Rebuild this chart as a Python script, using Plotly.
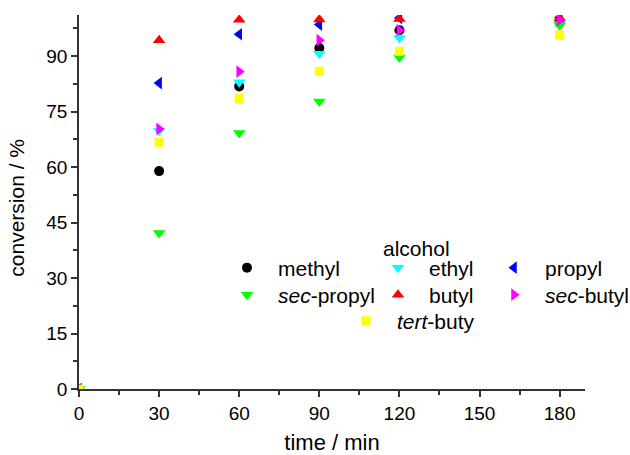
import plotly.graph_objects as go

# Conversion of each alcohol over reaction time
time_min = [0, 30, 60, 90, 120, 180]
methyl = [0, 58.9, 81.8, 92.2, 97.0, 99.0]
ethyl = [0, 69.8, 82.9, 90.6, 94.9, 98.6]
propyl = [0, 82.7, 95.9, 98.5, 100.3, 100.4]
sec_propyl = [0, 42.2, 69.2, 77.7, 89.6, 98.3]
butyl = [0, 94.3, 99.8, 99.9, 100.0, 100.3]
sec_butyl = [0, 70.3, 85.8, 94.3, 97.0, 99.7]
tert_buty = [0, 66.7, 78.5, 85.9, 91.3, 95.7]

x_ticks = [0, 30, 60, 90, 120, 150, 180]
y_ticks = [0, 15, 30, 45, 60, 75, 90]

FONT = "Liberation Sans, Arial, sans-serif"

# name, values, symbol, colour, marker size, legend id
series = [
    ("methyl", methyl, "circle", "#000000", 10, "legend"),
    ("ethyl", ethyl, "triangle-down", "#00FFFF", 11, "legend2"),
    ("propyl", propyl, "triangle-left", "#0000FF", 11, "legend3"),
    ("<i>sec</i>-propyl", sec_propyl, "triangle-down", "#00FF00", 11, "legend4"),
    ("butyl", butyl, "triangle-up", "#FF0000", 11, "legend5"),
    ("<i>sec</i>-butyl", sec_butyl, "triangle-right", "#FF00FF", 11, "legend6"),
    ("<i>tert</i>-buty", tert_buty, "square", "#FFFF00", 9, "legend7"),
]

fig = go.Figure()
for name, vals, sym, col, size, leg in series:
    fig.add_trace(go.Scatter(
        x=time_min, y=vals, mode="markers", name=name, legend=leg,
        showlegend=True,
        marker=dict(symbol=sym, color=col, size=size, line=dict(width=0)),
    ))

# plot area in pixels: x 79..585, y 15..389
W, H = 630, 455
L, R, T, B = 79, 45, 15, 66
pw, ph = W - L - R, H - T - B


def px_x(p):
    return (p - L) / pw


def px_y(p):
    return (H - B - p) / ph


def legend_box(text_left, row_y):
    return dict(
        x=px_x(text_left - 62), y=px_y(row_y), xanchor="left", yanchor="middle",
        xref="paper", yref="paper", bgcolor="rgba(0,0,0,0)", borderwidth=0,
        itemwidth=52, font=dict(family=FONT, size=21, color="black"),
    )


layout_legends = {
    "legend": legend_box(278, 268),
    "legend2": legend_box(429, 268),
    "legend3": legend_box(545, 268),
    "legend4": legend_box(278, 295),
    "legend5": legend_box(429, 295),
    "legend6": legend_box(545, 295),
    "legend7": legend_box(397, 321),
}

axis_common = dict(
    showline=True, linecolor="#333333", linewidth=1.5, mirror=False,
    showgrid=False, zeroline=False, ticks="outside", ticklen=6, tickwidth=1.5,
    tickcolor="#333333", tickfont=dict(family=FONT, size=19, color="black"),
)

fig.update_layout(
    width=W, height=H,
    showlegend=True,
    margin=dict(l=L, r=R, t=T, b=B, autoexpand=False),
    paper_bgcolor="white", plot_bgcolor="white",
    font=dict(family=FONT, color="black"),
    xaxis=dict(
        range=[0, 189.5], tickvals=x_ticks, ticktext=[str(v) for v in x_ticks],
        minor=dict(dtick=15, tick0=0, ticks="outside", ticklen=4, tickwidth=1.5,
                   tickcolor="#333333", showgrid=False),
        title=dict(text="time / min", font=dict(family=FONT, size=22), standoff=14),
        **axis_common,
    ),
    yaxis=dict(
        range=[0, 101.1], tickvals=y_ticks, ticktext=[str(v) for v in y_ticks],
        minor=dict(dtick=7.5, tick0=0, ticks="outside", ticklen=4, tickwidth=1.5,
                   tickcolor="#333333", showgrid=False),
        title=dict(text="conversion / %&nbsp;&nbsp;", font=dict(family=FONT, size=21),
                   standoff=16),
        **axis_common,
    ),
    annotations=[dict(
        text="alcohol", x=px_x(416), y=px_y(248), xref="paper", yref="paper",
        xanchor="center", yanchor="middle", showarrow=False,
        font=dict(family=FONT, size=21, color="black"),
    )],
    **layout_legends,
)

fig.write_html("out.html")
